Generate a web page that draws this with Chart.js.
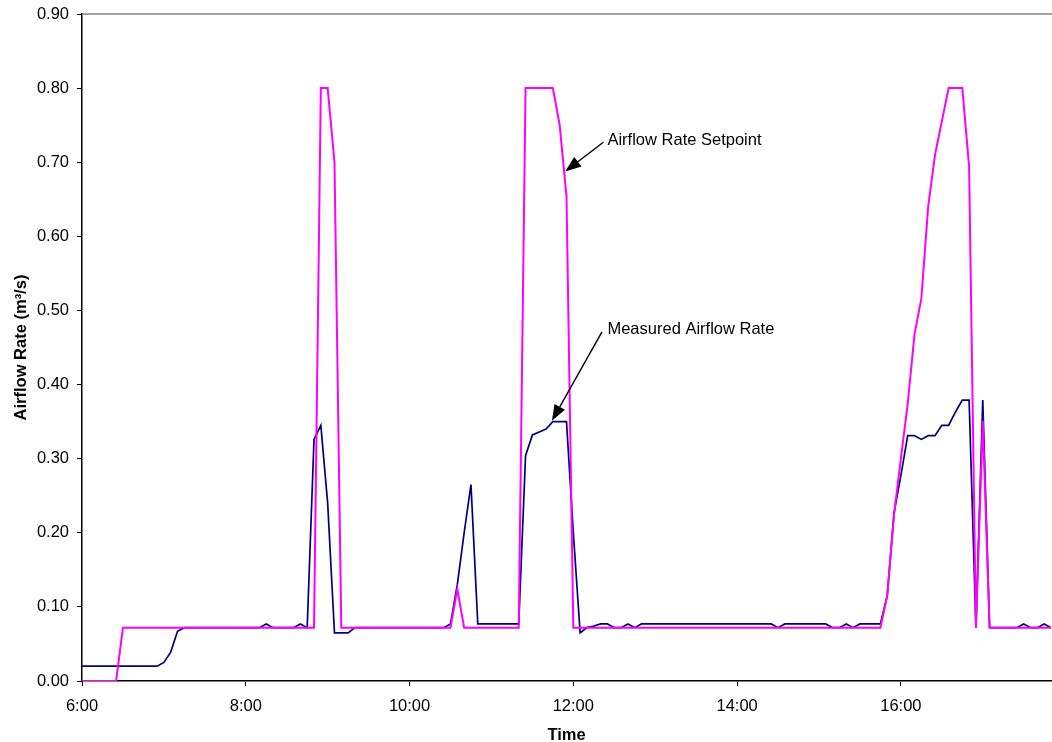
<!DOCTYPE html>
<html lang="en">
<head>
<meta charset="UTF-8">
<title>Airflow Rate</title>
<script src="https://cdn.jsdelivr.net/npm/chart.js@4.4.0/dist/chart.umd.min.js"></script>
<style>
  body { margin: 0; background: #fff; }
</style>
</head>
<body>
<canvas id="chart" width="1052" height="742"></canvas>
<script>
    // samples every 5 minutes, 6:00 to 17:50 (minutes since midnight)
    const startMin = 360;
    const stepMin = 5;

    // Measured Airflow Rate (m3/s)
    const measured = [
        0.020, 0.020, 0.020, 0.020, 0.020, 0.020, 0.020, 0.020, 0.020, 0.020,
        0.020, 0.020, 0.025, 0.039, 0.067, 0.072, 0.072, 0.072, 0.072, 0.072,
        0.072, 0.072, 0.072, 0.072, 0.072, 0.072, 0.072, 0.077, 0.072, 0.072,
        0.072, 0.072, 0.077, 0.072, 0.326, 0.345, 0.240, 0.065, 0.065, 0.065,
        0.072, 0.072, 0.072, 0.072, 0.072, 0.072, 0.072, 0.072, 0.072, 0.072,
        0.072, 0.072, 0.072, 0.072, 0.077, 0.130, 0.200, 0.265, 0.077, 0.077,
        0.077, 0.077, 0.077, 0.077, 0.077, 0.304, 0.332, 0.336, 0.340, 0.350,
        0.350, 0.350, 0.200, 0.065, 0.072, 0.074, 0.077, 0.077, 0.072, 0.072,
        0.077, 0.072, 0.077, 0.077, 0.077, 0.077, 0.077, 0.077, 0.077, 0.077,
        0.077, 0.077, 0.077, 0.077, 0.077, 0.077, 0.077, 0.077, 0.077, 0.077,
        0.077, 0.077, 0.072, 0.077, 0.077, 0.077, 0.077, 0.077, 0.077, 0.077,
        0.072, 0.072, 0.077, 0.072, 0.077, 0.077, 0.077, 0.077, 0.115, 0.227,
        0.277, 0.331, 0.331, 0.326, 0.331, 0.331, 0.345, 0.345, 0.363, 0.379,
        0.379, 0.072, 0.379, 0.072, 0.072, 0.072, 0.072, 0.072, 0.077, 0.072,
        0.072, 0.077, 0.072
    ];

    // Airflow Rate Setpoint (m3/s)
    const setpoint = [
        0.000, 0.000, 0.000, 0.000, 0.000, 0.000, 0.072, 0.072, 0.072, 0.072,
        0.072, 0.072, 0.072, 0.072, 0.072, 0.072, 0.072, 0.072, 0.072, 0.072,
        0.072, 0.072, 0.072, 0.072, 0.072, 0.072, 0.072, 0.072, 0.072, 0.072,
        0.072, 0.072, 0.072, 0.072, 0.072, 0.800, 0.800, 0.700, 0.072, 0.072,
        0.072, 0.072, 0.072, 0.072, 0.072, 0.072, 0.072, 0.072, 0.072, 0.072,
        0.072, 0.072, 0.072, 0.072, 0.072, 0.124, 0.072, 0.072, 0.072, 0.072,
        0.072, 0.072, 0.072, 0.072, 0.072, 0.800, 0.800, 0.800, 0.800, 0.800,
        0.750, 0.654, 0.072, 0.072, 0.072, 0.072, 0.072, 0.072, 0.072, 0.072,
        0.072, 0.072, 0.072, 0.072, 0.072, 0.072, 0.072, 0.072, 0.072, 0.072,
        0.072, 0.072, 0.072, 0.072, 0.072, 0.072, 0.072, 0.072, 0.072, 0.072,
        0.072, 0.072, 0.072, 0.072, 0.072, 0.072, 0.072, 0.072, 0.072, 0.072,
        0.072, 0.072, 0.072, 0.072, 0.072, 0.072, 0.072, 0.072, 0.115, 0.225,
        0.300, 0.374, 0.468, 0.516, 0.640, 0.710, 0.755, 0.800, 0.800, 0.800,
        0.694, 0.072, 0.351, 0.072, 0.072, 0.072, 0.072, 0.072, 0.072, 0.072,
        0.072, 0.072, 0.072
    ];

    // x tick positions (minutes since midnight): 6:00 .. 16:00
    const xTicks = [360, 480, 600, 720, 840, 960];

    const times = measured.map((v, i) => startMin + i * stepMin);

    // callout labels, placed in data coordinates (minutes, m3/s)
    const notes = [
        { text: 'Airflow Rate Setpoint', tx: 745, ty: 0.729, from: [742, 0.727], to: [714, 0.6875] },
        { text: 'Measured Airflow Rate', tx: 745, ty: 0.474, from: [741, 0.471], to: [704.3, 0.351] }
    ];

    const FONT = "'Liberation Sans', Arial, sans-serif";

    function fmtTime(m) {
        const h = Math.floor(m / 60);
        const mm = Math.round(m % 60);
        return h + ':' + String(mm).padStart(2, '0');
    }

    const calloutPlugin = {
        id: 'callouts',
        afterDraw(chart) {
            const ctx = chart.ctx;
            const xs = chart.scales.x, ys = chart.scales.y;
            const area = chart.chartArea;
            ctx.save();
            // plot area top border
            ctx.strokeStyle = '#808080';
            ctx.lineWidth = 1.5;
            ctx.beginPath();
            ctx.moveTo(area.left, area.top);
            ctx.lineTo(area.right + 2, area.top);
            ctx.stroke();

            ctx.fillStyle = '#000';
            ctx.strokeStyle = '#000';
            ctx.font = '16.5px ' + FONT;
            ctx.textBaseline = 'middle';
            ctx.textAlign = 'left';
            notes.forEach(n => {
                ctx.fillText(n.text, xs.getPixelForValue(n.tx), ys.getPixelForValue(n.ty));
                const x1 = xs.getPixelForValue(n.from[0]), y1 = ys.getPixelForValue(n.from[1]);
                const x2 = xs.getPixelForValue(n.to[0]), y2 = ys.getPixelForValue(n.to[1]);
                const ang = Math.atan2(y2 - y1, x2 - x1);
                const len = 16, half = 6;
                const bx = x2 - len * Math.cos(ang), by = y2 - len * Math.sin(ang);
                ctx.lineWidth = 1.4;
                ctx.beginPath();
                ctx.moveTo(x1, y1);
                ctx.lineTo(bx, by);
                ctx.stroke();
                ctx.beginPath();
                ctx.moveTo(x2, y2);
                ctx.lineTo(bx + half * Math.sin(ang), by - half * Math.cos(ang));
                ctx.lineTo(bx - half * Math.sin(ang), by + half * Math.cos(ang));
                ctx.closePath();
                ctx.fill();
            });
            ctx.restore();
        }
    };

    new Chart(document.getElementById('chart'), {
        type: 'line',
        data: {
            datasets: [{
                label: 'Airflow Rate Setpoint',
                data: times.map((t, i) => ({ x: t, y: setpoint[i] })),
                borderColor: '#FF00FF',
                borderWidth: 2,
                pointRadius: 0,
                tension: 0,
                fill: false
            }, {
                label: 'Measured Airflow Rate',
                data: times.map((t, i) => ({ x: t, y: measured[i] })),
                borderColor: '#000080',
                borderWidth: 1.7,
                pointRadius: 0,
                tension: 0,
                fill: false
            }]
        },
        options: {
            responsive: false,
            animation: false,
            layout: { padding: { top: 14, right: 1, left: 0, bottom: 0 } },
            plugins: {
                legend: { display: false },
                tooltip: { enabled: false }
            },
            scales: {
                x: {
                    type: 'linear',
                    min: 360,
                    max: 1070,
                    afterBuildTicks(scale) { scale.ticks = xTicks.map(v => ({ value: v })); },
                    afterFit(scale) { scale.height = 61; },
                    border: { color: '#000', width: 1.5 },
                    grid: { drawOnChartArea: false, drawTicks: true, tickLength: 5, color: '#000' },
                    ticks: {
                        maxRotation: 0,
                        autoSkip: false,
                        padding: 11,
                        color: '#000',
                        font: { family: FONT, size: 16.5 },
                        callback: v => fmtTime(v)
                    },
                    title: {
                        display: true,
                        text: 'Time',
                        color: '#000',
                        padding: { top: 0, bottom: 0 },
                        font: { family: FONT, size: 16.5, weight: 'bold', lineHeight: 0.75 }
                    }
                },
                y: {
                    min: 0,
                    max: 0.9,
                    afterFit(scale) {
                        scale.width = 82;
                        scale.paddingTop = 0;
                        scale.paddingBottom = 0;
                    },
                    border: { color: '#000', width: 1.5 },
                    grid: { drawOnChartArea: false, drawTicks: true, tickLength: 5, color: '#000' },
                    ticks: {
                        stepSize: 0.1,
                        padding: 8,
                        color: '#000',
                        font: { family: FONT, size: 16.5 },
                        callback: v => Number(v).toFixed(2)
                    },
                    title: {
                        display: true,
                        text: 'Airflow Rate (m³/s)',
                        color: '#000',
                        padding: { top: 13, bottom: 0 },
                        font: { family: FONT, size: 16.5, weight: 'bold', lineHeight: 1 }
                    }
                }
            }
        },
        plugins: [calloutPlugin]
    });
</script>
</body>
</html>
